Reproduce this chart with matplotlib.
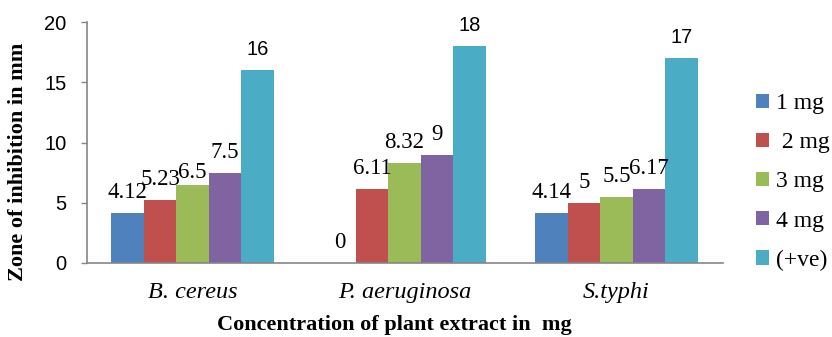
import matplotlib
matplotlib.use("Agg")
import matplotlib.pyplot as plt
import numpy as np

# Zone of inhibition (mm) for each organism and extract concentration
organisms = ["B. cereus", "P. aeruginosa", "S.typhi"]
series_names = ["1 mg", " 2 mg", "3 mg", "4 mg", "(+ve)"]
dose_1mg = [4.12, 0, 4.14]
dose_2mg = [5.23, 6.11, 5]
dose_3mg = [6.5, 8.32, 5.5]
dose_4mg = [7.5, 9, 6.17]
positive_control = [16, 18, 17]
yticks = [0, 5, 10, 15, 20]

series = [dose_1mg, dose_2mg, dose_3mg, dose_4mg, positive_control]
colors = ["#4F81BD", "#C0504D", "#9BBB59", "#8064A2", "#4BACC6"]

W, H = 832, 337
fig = plt.figure(figsize=(W / 100, H / 100), dpi=100)
ax = fig.add_axes([86.5 / W, 1 - 263 / H, (722.5 - 86.5) / W, (263 - 22) / H])

x = np.arange(len(organisms))
bw = 0.1533
serif = "Liberation Serif"
sans = "Liberation Sans"

for i, (vals, col, name) in enumerate(zip(series, colors, series_names)):
    pos = x + (i - 2) * bw
    bars = ax.bar(pos, vals, width=bw, color=col, label=name, zorder=2)
    for j, (b, v) in enumerate(zip(bars, vals)):
        txt = f"{v:g}"
        is_ctrl = i == 4
        dy = 15
        if i == 2 and j == 0:
            dy = 7
        ax.annotate(txt, (b.get_x() + b.get_width() / 2, v),
                    xytext=(0, dy * 0.72), textcoords="offset points",
                    ha="center", va="baseline",
                    fontsize=14.5 if is_ctrl else 16.5,
                    family=sans if is_ctrl else serif)

ax.set_xlim(-0.5, 2.5)
ax.set_ylim(0, 20)
ax.set_yticks(yticks)
ax.set_yticklabels([str(t) for t in yticks], family=sans, fontsize=14.5)
ax.set_xticks(x)
ax.set_xticklabels(organisms, family=serif, style="italic", fontsize=17.5)
ax.tick_params(axis="x", length=0, pad=14)
ax.tick_params(axis="y", length=4.5, width=1, color="#868686", pad=10)

for s in ["top", "right"]:
    ax.spines[s].set_visible(False)
for s in ["left", "bottom"]:
    ax.spines[s].set_color("#868686")
    ax.spines[s].set_linewidth(1.2)

fig.text(18 / W, 1 - 162 / H, "Zone of inhibition in mm", rotation=90,
         ha="center", va="center", family=serif, weight="bold", fontsize=16)
fig.text(394 / W, 1 - 325 / H, "Concentration of plant extract in  mg",
         ha="center", va="center", family=serif, weight="bold", fontsize=16)

handles, labels = ax.get_legend_handles_labels()
fig.legend(handles, labels, loc="center left",
           bbox_to_anchor=(756 / W, 1 - 182 / H), frameon=False,
           prop={"family": serif, "size": 17},
           handlelength=0.55, handleheight=0.55, handletextpad=0.3,
           labelspacing=0.77, borderaxespad=0, borderpad=0)

fig.savefig("out.png", dpi=100)
